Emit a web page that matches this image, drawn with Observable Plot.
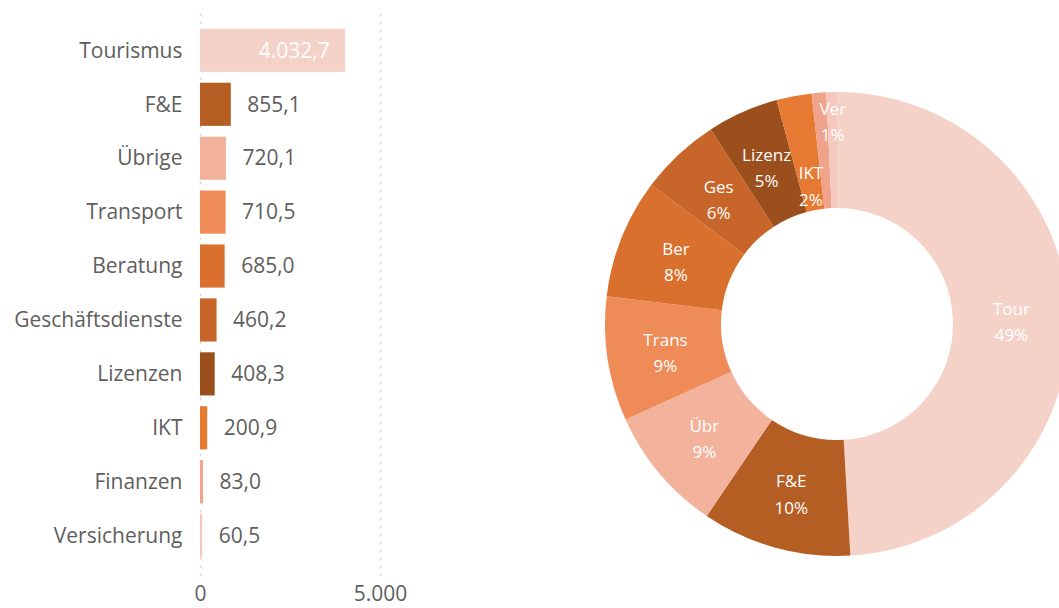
<!DOCTYPE html>
<html><head><meta charset="utf-8">
<script src="https://cdn.jsdelivr.net/npm/d3@7"></script>
<script src="https://cdn.jsdelivr.net/npm/@observablehq/plot@0.6"></script>
<style>
html,body{margin:0;padding:0;background:#fff;overflow:hidden;width:1059px;height:608px;}
#bars{position:absolute;left:0;top:0;}
#donut{position:absolute;left:590px;top:0;width:469px;height:608px;overflow:hidden;}
svg{max-width:none !important;}
</style></head><body><div id="bars"></div><div id="donut"></div>
<script>
const categories = ["Tourismus","F&E","Übrige","Transport","Beratung","Geschäftsdienste","Lizenzen","IKT","Finanzen","Versicherung"];
const values = [4032.7, 855.1, 720.1, 710.5, 685.0, 460.2, 408.3, 200.9, 83.0, 60.5];
const shortLabels = ["Tour","F&E","Übr","Trans","Ber","Ges","Lizenz","IKT","","Ver"];
const colors = ["#F5D2C7","#B55E24","#F2B29B","#EF8B57","#D9702D","#C8652A","#9B4F1D","#E77A33","#F0A38B","#F5C8BD"];
const xTicks = [0, 5000];

const de = d3.formatLocale({decimal: ",", thousands: ".", grouping: [3], currency: ["", " €"]});
const fmt1 = de.format(",.1f");
const fmt0 = de.format(",.0f");
const font = "'Open Sans', sans-serif";
const gray = "#605E5C";
const data = categories.map((c, i) => ({cat: c, value: values[i], short: shortLabels[i]}));

const bars = Plot.plot({
  width: 430, height: 608,
  marginLeft: 200, marginRight: 50, marginTop: 18, marginBottom: 40,
  style: {fontFamily: font, fontSize: "21px", color: gray, background: "transparent"},
  x: {domain: [0, 5000], ticks: xTicks, tickFormat: fmt0, tickSize: 0, tickPadding: 18, label: null},
  y: {domain: categories, padding: 0.2, round: false, tickSize: 0, tickPadding: 18, label: null},
  color: {domain: categories, range: colors},
  marks: [
    Plot.ruleX(xTicks, {stroke: "#c4c4c4", strokeDasharray: "1.5,6.5", strokeWidth: 1.5, insetTop: -4, insetBottom: -12}),
    Plot.barX(data, {y: "cat", x: "value", fill: "cat"}),
    Plot.text(data.filter(d => d.value < 2000), {y: "cat", x: "value", text: d => fmt1(d.value), dx: 16, textAnchor: "start", fill: gray}),
    Plot.text(data.filter(d => d.value >= 2000), {y: "cat", x: "value", text: d => fmt1(d.value), dx: -16, textAnchor: "end", fill: "#ffffff"})
  ]
});
document.getElementById("bars").appendChild(bars);

// Donut
const total = d3.sum(values);
const cx = 247, cy = 324, rOuter = 232, rInner = 116;
const pie = d3.pie().value(d => d.value).sort(null);
const arcs = pie(data);
const arcGen = d3.arc().innerRadius(rInner).outerRadius(rOuter);
const labelRadius = {"IKT": 143, "Ver": 205};
const labels = arcs.filter(a => a.data.short).map(a => {
  const r = labelRadius[a.data.short] ?? (rInner + rOuter) / 2;
  const c = d3.arc().innerRadius(r).outerRadius(r).centroid(a);
  return {x: cx + c[0], y: cy + c[1], text: a.data.short + "\n" + Math.round(a.data.value / total * 100) + "%"};
});

const donut = Plot.plot({
  width: 469, height: 608, margin: 0,
  style: {fontFamily: font, fontSize: "17px", background: "transparent", overflow: "hidden"},
  x: {type: "identity", axis: null},
  y: {type: "identity", axis: null},
  color: {domain: categories, range: colors},
  marks: [
    (index, scales) => {
      const g = d3.create("svg:g").attr("transform", `translate(${cx},${cy})`);
      g.selectAll("path").data(arcs).join("path")
        .attr("d", arcGen)
        .attr("fill", d => scales.color(d.data.cat));
      return g.node();
    },
    Plot.text(labels, {x: "x", y: "y", text: "text", fill: "#ffffff", lineHeight: 1.55})
  ]
});
document.getElementById("donut").appendChild(donut);
</script>
</body></html>
